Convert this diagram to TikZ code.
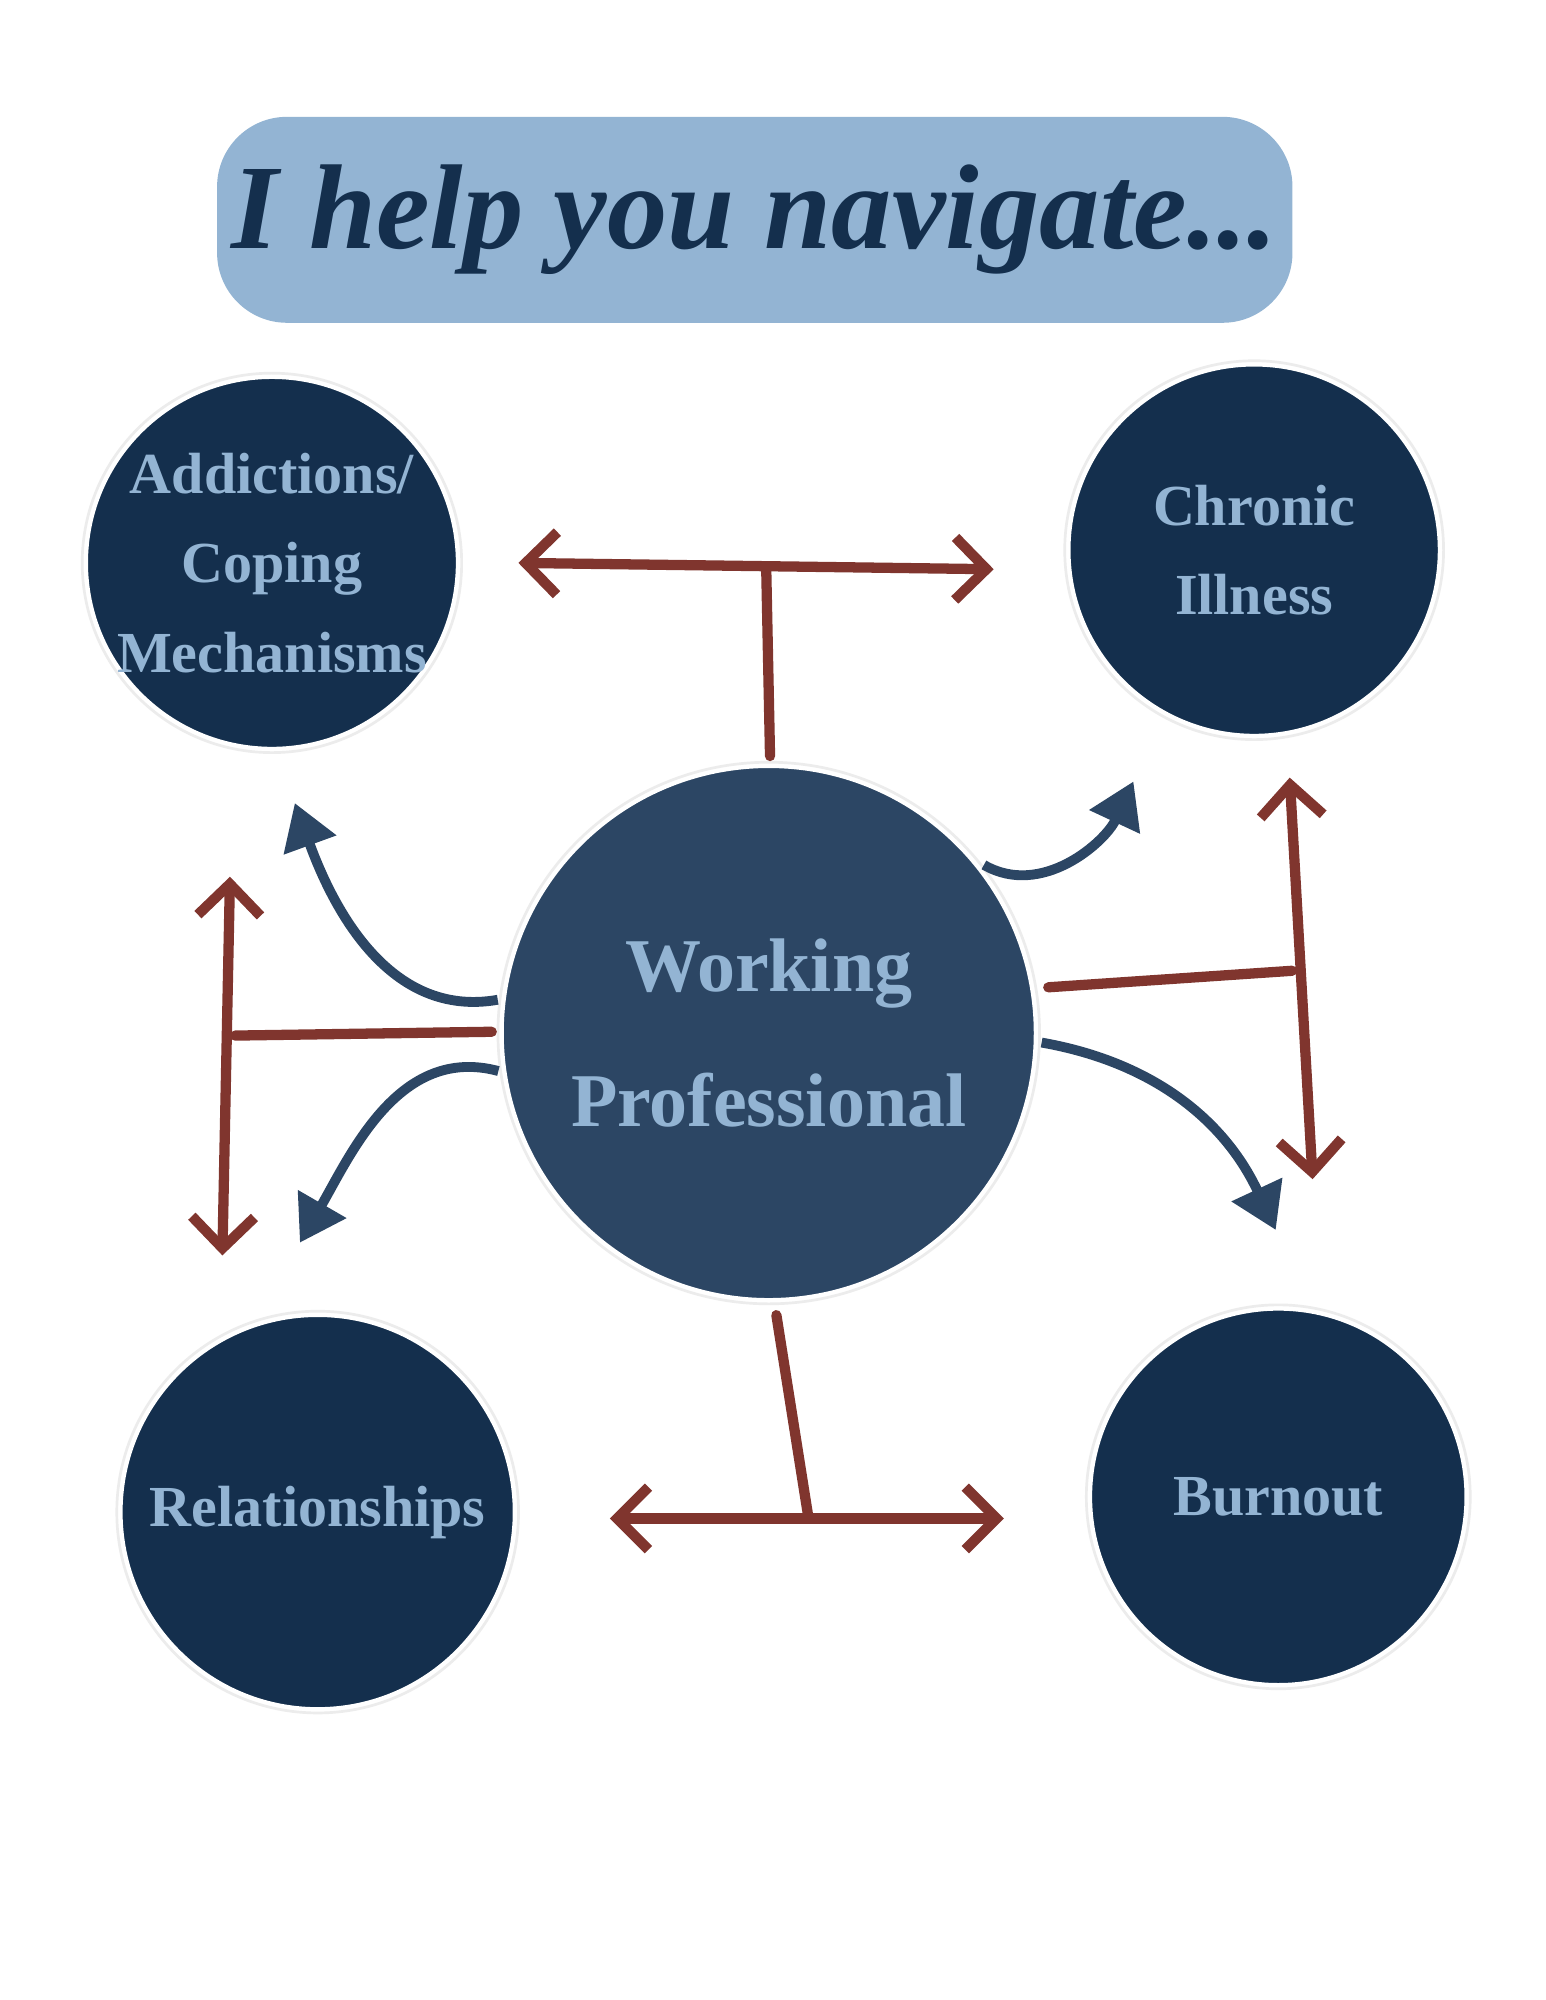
\documentclass[tikz,border=0pt]{standalone}
\usepackage{fontspec}
\setmainfont{Liberation Serif}
\usetikzlibrary{arrows.meta}
\definecolor{navy}{HTML}{142F4D}
\definecolor{midnavy}{HTML}{2C4664}
\definecolor{paleblue}{HTML}{93B4D3}
\definecolor{rust}{HTML}{80352E}
\tikzset{
  topic/.style={circle,fill=navy,draw=white,double=gray!15,line width=1pt,
    inner sep=0pt,text=paleblue,font=\bfseries\fontsize{13}{20}\selectfont,align=center},
  link/.style={rust,line width=2.3pt,line cap=round},
  twoway/.style={link,{Straight Barb[length=7pt,width=14pt,line width=2.3pt]}-{Straight Barb[length=7pt,width=14pt,line width=2.3pt]}},
  flow/.style={midnavy,line width=2.2pt,-{Triangle[length=10pt,width=12pt]}}
}
\begin{document}
\begin{tikzpicture}[x=0.01cm,y=-0.01cm]
\useasboundingbox (0,0) rectangle (1216,1574);
% Title
\node (title) [fill=paleblue,rounded corners=0.55cm,minimum width=7.53cm,minimum height=1.62cm,
  text=navy,font=\bfseries\itshape\fontsize{27}{30}\selectfont] at (594,173) {I help you navigate...};
% Circles
\node (addict) [topic,minimum size=2.96cm] at (214,443) {Addictions/\\Coping\\Mechanisms};
\node (chronic) [topic,minimum size=2.98cm] at (987,433) {Chronic\\Illness};
\node (relat) [topic,minimum size=3.16cm] at (250,1190) {Relationships};
\node (burn) [topic,minimum size=3.02cm] at (1006,1178) {Burnout};
\node (work) [topic,fill=midnavy,minimum size=4.26cm,font=\bfseries\fontsize{17}{30}\selectfont] at (605,813) {Working\\Professional};
% Red connectors
\coordinate (t1a) at (408,443); \coordinate (t1b) at (782,448);
\coordinate (t1s) at (603,447); \coordinate (t1e) at (606,595);
\draw[twoway] (t1a) -- (t1b);
\draw[link] (t1s) -- (t1e);
\coordinate (t2a) at (181,690); \coordinate (t2b) at (175,988);
\coordinate (t2s) at (185,815); \coordinate (t2e) at (387,812);
\draw[twoway] (t2a) -- (t2b);
\draw[link] (t2s) -- (t2e);
\coordinate (t3a) at (1015,612); \coordinate (t3b) at (1033,928);
\coordinate (t3s) at (1017,764); \coordinate (t3e) at (825,777);
\draw[twoway] (t3a) -- (t3b);
\draw[link] (t3s) -- (t3e);
\coordinate (t4a) at (480,1195); \coordinate (t4b) at (790,1195);
\coordinate (t4s) at (636,1193); \coordinate (t4e) at (611,1035);
\draw[twoway] (t4a) -- (t4b);
\draw[link] (t4s) -- (t4e);
% Blue curved arrows
\coordinate (f1) at (232,632); \coordinate (f2) at (892,615);
\coordinate (f3) at (236,978); \coordinate (f4) at (1004,968);
\draw[flow] (work.173) to[out=190,in=-70] (f1);
\draw[flow] (work.38) to[out=-30,in=-115] (f2);
\draw[flow] (work.188) to[out=165,in=60] (f3);
\draw[flow] (work.-2) to[out=-10,in=115] (f4);
\end{tikzpicture}
\end{document}
